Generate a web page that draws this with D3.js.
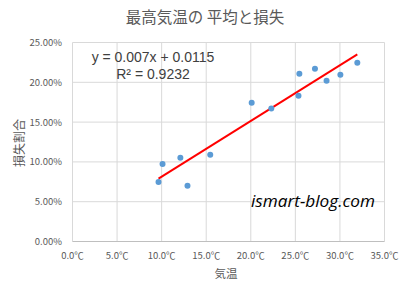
<!DOCTYPE html>
<html>
<head>
<meta charset="utf-8">
<script src="https://cdn.jsdelivr.net/npm/d3@7"></script>
<style>
  body { margin: 0; background: #fff; }
  svg text { font-family: "Noto Sans CJK JP", "Noto Sans", sans-serif; }
</style>
</head>
<body>
<div class="chart_container"></div>
<script>
// 気温 (°C) と損失割合
var temps  = [9.65, 10.1, 12.1, 12.9, 15.45, 20.1, 22.3, 25.35, 25.45, 27.2, 28.5, 30.05, 31.95];
var losses = [0.0747, 0.0974, 0.1053, 0.070, 0.109, 0.1744, 0.167, 0.183, 0.2108, 0.217, 0.202, 0.2095, 0.2246];
var xTicks = [0, 5, 10, 15, 20, 25, 30, 35];
var yTicks = [0, 0.05, 0.10, 0.15, 0.20, 0.25];
var slope = 0.007, intercept = 0.0115, r2 = 0.9232;

var W = 411, H = 283;
var svg = d3.select(".chart_container").append("svg")
    .attr("width", W)
    .attr("height", H);

var x = d3.scaleLinear().domain([0, 35]).range([72.5, 384.5]);
var y = d3.scaleLinear().domain([0, 0.25]).range([241.5, 42.5]);

// gridlines
svg.append("g").selectAll("line")
    .data(xTicks)
    .enter().append("line")
      .attr("x1", d => x(d)).attr("x2", d => x(d))
      .attr("y1", y(0)).attr("y2", y(0.25))
      .style("stroke", "#d9d9d9").style("stroke-width", 1);

svg.append("g").selectAll("line")
    .data(yTicks)
    .enter().append("line")
      .attr("x1", x(0)).attr("x2", x(35))
      .attr("y1", d => y(d)).attr("y2", d => y(d))
      .style("stroke", d => d === 0 ? "#bfbfbf" : "#d9d9d9").style("stroke-width", 1);

// tick labels
svg.append("g").selectAll("text")
    .data(yTicks)
    .enter().append("text")
      .attr("x", 62)
      .attr("y", d => y(d) + 3.5)
      .attr("text-anchor", "end")
      .style("font-size", "9.5px")
      .style("fill", "#595959")
      .text(d => d3.format(".2%")(d));

svg.append("g").selectAll("text")
    .data(xTicks)
    .enter().append("text")
      .attr("x", d => x(d))
      .attr("y", 259)
      .attr("text-anchor", "middle")
      .style("font-size", "9.5px")
      .style("fill", "#595959")
      .text(d => d.toFixed(1) + "℃");

// title + axis titles
svg.append("text")
    .attr("x", 205).attr("y", 23)
    .attr("text-anchor", "middle")
    .style("font-size", "15.5px")
    .style("fill", "#595959")
    .text("最高気温の 平均と損失");

svg.append("text")
    .attr("x", 226).attr("y", 278)
    .attr("text-anchor", "middle")
    .style("font-size", "11.5px")
    .style("fill", "#595959")
    .text("気温");

svg.append("text")
    .attr("transform", "translate(24,143) rotate(-90)")
    .attr("text-anchor", "middle")
    .style("font-size", "12px")
    .style("fill", "#595959")
    .text("損失割合");

// trendline
var xMin = d3.min(temps), xMax = d3.max(temps);
svg.append("line")
    .attr("x1", x(xMin)).attr("y1", y(slope * xMin + intercept))
    .attr("x2", x(xMax)).attr("y2", y(slope * xMax + intercept))
    .style("stroke", "#ff0000")
    .style("stroke-width", 2);

// points
svg.append("g").selectAll("circle")
    .data(temps)
    .enter().append("circle")
      .attr("cx", d => x(d))
      .attr("cy", (d, i) => y(losses[i]))
      .attr("r", 3)
      .style("fill", "#5b9bd5");

// equation
svg.append("text")
    .attr("x", 153).attr("y", 62)
    .attr("text-anchor", "middle")
    .style("font-family", "'Liberation Sans', sans-serif")
    .style("font-size", "14px")
    .style("fill", "#404040")
    .text("y = " + slope + "x + " + intercept);

svg.append("text")
    .attr("x", 153).attr("y", 79)
    .attr("text-anchor", "middle")
    .style("font-family", "'Liberation Sans', sans-serif")
    .style("font-size", "14px")
    .style("fill", "#404040")
    .text("R² = " + r2);

svg.append("text")
    .attr("x", 251).attr("y", 207)
    .style("font-family", "'Open Sans', sans-serif")
    .style("font-style", "italic")
    .style("font-size", "17.2px")
    .style("fill", "#000")
    .text("ismart-blog.com");
</script>
</body>
</html>
